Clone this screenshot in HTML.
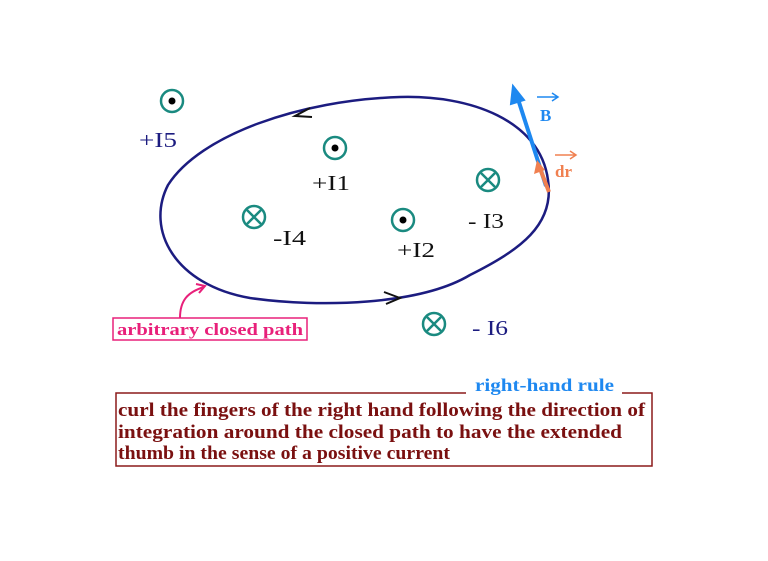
<!DOCTYPE html>
<html><head><style>
body{margin:0;background:#fff;width:768px;height:561px;overflow:hidden;}
svg{display:block}
text{font-family:"Liberation Serif",serif;}
</style></head><body>
<svg width="768" height="561" viewBox="0 0 768 561">
<path d="M548,180 C540,120 470,95 400,97 C300,100 200,135 168,185 C145,230 175,285 250,298 C320,308 420,305 470,275 C520,250 555,225 548,180 Z" fill="none" stroke="#1c1c80" stroke-width="2.5"/>
<path d="M310,108 L295,116 L312,117" fill="none" stroke="#111" stroke-width="2"/>
<path d="M384,292 L400,298 L386,304" fill="none" stroke="#111" stroke-width="2"/>
<g fill="none" stroke="#1a8a80" stroke-width="2.5">
<circle cx="172" cy="101" r="11"/><circle cx="335" cy="148" r="11"/><circle cx="403" cy="220" r="11"/>
<circle cx="254" cy="217" r="11"/><circle cx="488" cy="180" r="11"/><circle cx="434" cy="324" r="11"/>
<path d="M247,210 L261,224 M261,210 L247,224 M481,173 L495,187 M495,173 L481,187 M427,317 L441,331 M441,317 L427,331"/>
</g>
<g fill="#000"><circle cx="172" cy="101" r="3.5"/><circle cx="335" cy="148" r="3.5"/><circle cx="403" cy="220" r="3.5"/></g>
<g font-size="21">
<text x="139" y="147" fill="#1c1c80" textLength="38" lengthAdjust="spacingAndGlyphs">+I5</text>
<text x="312" y="190" fill="#111" textLength="38" lengthAdjust="spacingAndGlyphs">+I1</text>
<text x="273" y="245" fill="#111" textLength="33" lengthAdjust="spacingAndGlyphs">-I4</text>
<text x="397" y="257" fill="#111" textLength="38" lengthAdjust="spacingAndGlyphs">+I2</text>
<text x="468" y="228" fill="#111" textLength="36" lengthAdjust="spacingAndGlyphs">- I3</text>
<text x="472" y="335" fill="#1c1c80" textLength="36" lengthAdjust="spacingAndGlyphs">- I6</text>
</g>
<line x1="546" y1="186" x2="517" y2="96" stroke="#1e88f0" stroke-width="4"/>
<path d="M513,86 L511,104 L524,100 Z" fill="#1e88f0" stroke="#1e88f0" stroke-width="2"/>
<line x1="549" y1="192" x2="539" y2="166" stroke="#f08050" stroke-width="4"/>
<path d="M537,160 L534,174 L545,170 Z" fill="#f08050"/>
<text x="540" y="121" font-size="17" fill="#1e88f0" font-weight="bold">B</text>
<path d="M537,97 L557,97 M552,93 L558,97 L552,101" fill="none" stroke="#1e88f0" stroke-width="1.5"/>
<text x="555" y="177" font-size="17" fill="#f08050" font-weight="bold">dr</text>
<path d="M555,155 L575,155 M570,151 L576,155 L570,159" fill="none" stroke="#f08050" stroke-width="1.5"/>
<path d="M180,318 C180,300 188,292 204,287 M196,284 L205,286 L199,293" fill="none" stroke="#e8207a" stroke-width="2"/>
<rect x="113" y="318" width="194" height="22" fill="none" stroke="#e8207a" stroke-width="1.5"/>
<text x="117" y="335" font-size="17" fill="#e8207a" font-weight="bold" textLength="186" lengthAdjust="spacingAndGlyphs">arbitrary closed path</text>
<path d="M466,393 L116,393 L116,466 L652,466 L652,393 L622,393" fill="none" stroke="#8b1a1a" stroke-width="1.5"/>
<text x="475" y="391" font-size="18" fill="#1e88f0" font-weight="bold" textLength="139" lengthAdjust="spacingAndGlyphs">right-hand rule</text>
<g font-size="19" fill="#7a1010" font-weight="bold">
<text x="118" y="416" textLength="527" lengthAdjust="spacingAndGlyphs">curl the fingers of the right hand following the direction of</text>
<text x="118" y="438" textLength="504" lengthAdjust="spacingAndGlyphs">integration around the closed path to have the extended</text>
<text x="118" y="459" textLength="332" lengthAdjust="spacingAndGlyphs">thumb in the sense of a positive current</text>
</g>
</svg>
</body></html>
